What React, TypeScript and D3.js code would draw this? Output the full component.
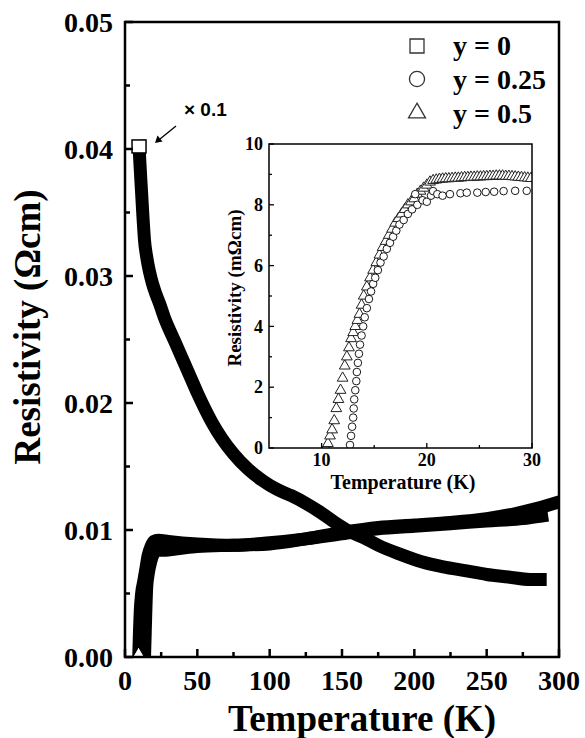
import React from "react";
import * as d3 from "d3";

// main panel: resistivity (Ohm cm) vs temperature (K)
const tempTicks = [0, 50, 100, 150, 200, 250, 300];
const rhoTicks = [0, 0.01, 0.02, 0.03, 0.04, 0.05];

// y = 0, already multiplied by 0.1
const rhoY0: [number, number][] = [
  [9.7, 0.0402], [10.5, 0.0385], [11.5, 0.0365], [12.5, 0.0345], [13.5, 0.0328],
  [15, 0.0315], [17, 0.0303], [19, 0.0294], [21, 0.0287], [24, 0.0278],
  [27, 0.0268], [31, 0.0257], [35, 0.0247], [40, 0.0234], [45, 0.0221],
  [50, 0.0208], [55, 0.0196], [60, 0.0185], [67, 0.0172], [75, 0.016],
  [85, 0.0148], [95, 0.0139], [105, 0.0132], [115, 0.0127], [125, 0.0121],
  [135, 0.0114], [145, 0.0106], [155, 0.0099], [165, 0.0094], [175, 0.0088],
  [190, 0.0081], [205, 0.0075], [220, 0.0071], [235, 0.0068], [250, 0.0065],
  [265, 0.0063], [280, 0.0061], [287, 0.0061],
];

// y = 0.25
const rhoY025: [number, number][] = [
  [13.5, 0], [14, 0.002], [14.5, 0.004], [15, 0.0055], [16, 0.0065],
  [18, 0.0076], [20, 0.0082], [22, 0.0084], [25, 0.0084], [35, 0.0085],
  [50, 0.0087], [75, 0.0088], [100, 0.0089], [125, 0.0093], [150, 0.0098],
  [175, 0.0102], [200, 0.0104], [225, 0.0106], [250, 0.0109], [270, 0.0113],
  [285, 0.0117], [300, 0.0122],
];

// y = 0.5
const rhoY05: [number, number][] = [
  [9.5, 0], [10, 0.002], [10.5, 0.0035], [11.5, 0.005], [13, 0.006],
  [14.5, 0.007], [16, 0.008], [18, 0.0087], [20, 0.0091], [23, 0.0092],
  [30, 0.0091], [50, 0.0089], [75, 0.0088], [100, 0.009], [125, 0.0093],
  [150, 0.0097], [175, 0.0101], [200, 0.0103], [225, 0.0105], [250, 0.0107],
  [275, 0.0109], [288, 0.0111],
];

// inset: resistivity (mOhm cm) near Tc
const insetTempTicks = [10, 20, 30];
const insetRhoTicks = [0, 2, 4, 6, 8, 10];

const insetY05: [number, number][] = [
  [10.4, 0], [10.6, 0.15], [10.8, 0.4], [11.0, 0.6], [11.2, 0.9], [11.4, 1.3],
  [11.6, 1.6], [11.8, 1.9], [12.0, 2.3], [12.2, 2.7], [12.4, 3.0], [12.6, 3.3],
  [12.8, 3.6], [13.0, 3.8], [13.2, 4.0], [13.4, 4.2], [13.6, 4.4], [13.8, 4.7],
  [14.0, 5.0], [14.3, 5.3], [14.6, 5.6], [14.9, 5.85], [15.2, 6.1], [15.5, 6.35],
  [15.8, 6.6], [16.1, 6.8], [16.4, 7.0], [16.7, 7.2], [17.0, 7.4], [17.3, 7.55],
  [17.6, 7.7], [17.9, 7.85], [18.2, 8.0], [18.5, 8.1], [18.8, 8.2], [19.1, 8.35],
  [19.4, 8.45], [19.7, 8.55], [20.0, 8.65], [20.3, 8.75], [20.6, 8.8], [20.9, 8.82],
  [21.2, 8.84], [21.5, 8.85], [21.8, 8.86], [22.1, 8.86], [22.4, 8.87], [22.7, 8.88],
  [23.0, 8.88], [23.3, 8.89], [23.6, 8.9], [23.9, 8.9], [24.2, 8.91], [24.5, 8.91],
  [24.8, 8.92], [25.1, 8.92], [25.4, 8.93], [25.7, 8.93], [26.0, 8.94], [26.3, 8.94],
  [26.6, 8.95], [26.9, 8.95], [27.2, 8.95], [27.5, 8.94], [27.8, 8.94], [28.1, 8.93],
  [28.4, 8.92], [28.7, 8.91], [29.0, 8.9], [29.3, 8.89], [29.6, 8.88], [29.9, 8.87],
];

const insetY025: [number, number][] = [
  [12.7, 0.1], [12.8, 0.4], [12.9, 0.7], [13.0, 1.0], [13.05, 1.3], [13.1, 1.6],
  [13.2, 1.9], [13.3, 2.2], [13.35, 2.5], [13.45, 2.8], [13.55, 3.1], [13.65, 3.4],
  [13.8, 3.7], [13.95, 4.0], [14.1, 4.3], [14.3, 4.6], [14.5, 4.9], [14.7, 5.15],
  [14.9, 5.4], [15.1, 5.6], [15.35, 5.85], [15.6, 6.1], [15.9, 6.3], [16.2, 6.55],
  [16.5, 6.75], [16.8, 6.95], [17.1, 7.15], [17.4, 7.35], [17.8, 7.5], [18.2, 7.7],
  [18.6, 7.85], [18.9, 8.35], [19.1, 8.0], [19.6, 8.15], [20.0, 8.1], [20.4, 8.3],
  [20.6, 8.45], [21.0, 8.35], [21.5, 8.3], [22.2, 8.35], [23.2, 8.38], [23.8, 8.4],
  [24.8, 8.4], [25.6, 8.42], [26.4, 8.43], [27.3, 8.45], [28.4, 8.46], [29.5, 8.46],
];

const legendLabels = ["y = 0", "y = 0.25", "y = 0.5"];

const serifStyle = { fontFamily: "Liberation Serif", fontWeight: "bold" as const };
const sansStyle = { fontFamily: "Liberation Sans", fontWeight: "bold" as const };

const App = () => {
  const width = 585;
  const height = 738;

  const x = d3.scaleLinear().domain([0, 300]).range([125, 559]);
  const y = d3.scaleLinear().domain([0, 0.05]).range([657, 22]);

  const xi = d3.scaleLinear().domain([5, 30]).range([269, 532]);
  const yi = d3.scaleLinear().domain([0, 10]).range([448, 144]);

  const band = d3
    .line<[number, number]>()
    .x((d) => x(d[0]))
    .y((d) => y(d[1]))
    .curve(d3.curveMonotoneX);

  const sym = (type: d3.SymbolType, size: number) => d3.symbol().type(type).size(size)()!;

  const xMinor = d3.range(25, 300, 50);
  const yMinor = d3.range(0.005, 0.05, 0.01);
  const xiMinor = [15, 25];
  const yiMinor = [1, 3, 5, 7, 9];

  return (
    <svg width={width} height={height} style={{ position: "absolute", left: 0, top: 0, background: "#fff" }}>
      <defs>
        <clipPath id="main-clip">
          <rect x={125} y={22} width={434} height={635} />
        </clipPath>
        <clipPath id="inset-clip">
          <rect x={269} y={144} width={263} height={304} />
        </clipPath>
      </defs>

      {/* data bands (dense overlapping markers) */}
      <g clipPath="url(#main-clip)" fill="none" stroke="#000" strokeWidth={13} strokeLinejoin="round" strokeLinecap="square">
        <path d={band(rhoY025)!} />
        <path d={band(rhoY05)!} />
        <path d={band(rhoY0)!} />
        <path
          d={sym(d3.symbolTriangle, 60)}
          transform={`translate(${x(rhoY05[0][0])},${y(rhoY05[0][1]) - 3})`}
          fill="#fff"
          strokeWidth={1}
        />
      </g>
      <rect
        x={x(rhoY0[0][0]) - 7}
        y={y(rhoY0[0][1]) - 6.5}
        width={14}
        height={13}
        fill="#fff"
        stroke="#000"
        strokeWidth={1.5}
      />

      {/* main frame */}
      <rect x={125} y={22} width={434} height={635} fill="none" stroke="#000" strokeWidth={2.5} />

      {/* main ticks */}
      <g stroke="#000" strokeWidth={2.5}>
        {tempTicks.map((t) => (
          <line key={"xt" + t} x1={x(t)} x2={x(t)} y1={657} y2={649} />
        ))}
        {xMinor.map((t) => (
          <line key={"xm" + t} x1={x(t)} x2={x(t)} y1={657} y2={652} />
        ))}
        {rhoTicks.map((t) => (
          <line key={"yt" + t} x1={125} x2={133} y1={y(t)} y2={y(t)} />
        ))}
        {yMinor.map((t) => (
          <line key={"ym" + t} x1={125} x2={130} y1={y(t)} y2={y(t)} />
        ))}
      </g>

      {tempTicks.map((t) => (
        <text key={"xl" + t} x={x(t)} y={690} textAnchor="middle" fontSize={28} style={serifStyle}>
          {t}
        </text>
      ))}
      {rhoTicks.map((t) => (
        <text key={"yl" + t} x={113} y={y(t)} dy="0.34em" textAnchor="end" fontSize={28} style={serifStyle}>
          {d3.format(".2f")(t)}
        </text>
      ))}

      <text x={362} y={731} textAnchor="middle" fontSize={37} style={serifStyle}>
        Temperature (K)
      </text>
      <text transform="translate(40,327) rotate(-90)" textAnchor="middle" fontSize={37} style={serifStyle}>
        Resistivity (Ωcm)
      </text>

      {/* ×0.1 annotation */}
      <text x={184} y={116} fontSize={19} style={sansStyle}>
        × 0.1
      </text>
      <line x1={176} y1={126} x2={160} y2={139} stroke="#000" strokeWidth={1.3} />
      <path d="M155,143 L157.5,135.5 L162.5,141.5 Z" fill="#000" />

      {/* legend */}
      <g fill="#fff" stroke="#333" strokeWidth={1.3}>
        <path d={sym(d3.symbolSquare, 196)} transform="translate(417,46)" />
        <path d={sym(d3.symbolCircle, 180)} transform="translate(417,79)" />
        <path d={sym(d3.symbolTriangle, 125)} transform="translate(417,113)" />
      </g>
      {legendLabels.map((l, i) => (
        <text key={l} x={453} y={55 + i * 34} fontSize={28} style={serifStyle}>
          {l}
        </text>
      ))}

      {/* inset */}
      <rect x={269} y={144} width={263} height={304} fill="#fff" />
      <g clipPath="url(#inset-clip)">
        {insetY05.map((d, i) => (
          <path
            key={"it" + i}
            d={sym(d3.symbolTriangle, 50)}
            transform={`translate(${xi(d[0])},${yi(d[1])})`}
            fill="#fff"
            stroke="#222"
            strokeWidth={1}
          />
        ))}
        {insetY025.map((d, i) => (
          <circle
            key={"ic" + i}
            cx={xi(d[0])}
            cy={yi(d[1])}
            r={3.8}
            fill="#fff"
            stroke="#000"
            strokeWidth={0.9}
          />
        ))}
      </g>
      <rect x={269} y={144} width={263} height={304} fill="none" stroke="#000" strokeWidth={1.5} />
      <g stroke="#000" strokeWidth={1.3}>
        {insetTempTicks.map((t) => (
          <line key={"ixt" + t} x1={xi(t)} x2={xi(t)} y1={448} y2={443} />
        ))}
        {xiMinor.map((t) => (
          <line key={"ixm" + t} x1={xi(t)} x2={xi(t)} y1={448} y2={445} />
        ))}
        {insetRhoTicks.map((t) => (
          <line key={"iyt" + t} x1={269} x2={274} y1={yi(t)} y2={yi(t)} />
        ))}
        {yiMinor.map((t) => (
          <line key={"iym" + t} x1={269} x2={272} y1={yi(t)} y2={yi(t)} />
        ))}
      </g>
      {insetTempTicks.map((t) => (
        <text key={"ixl" + t} x={xi(t)} y={466} textAnchor="middle" fontSize={18} style={serifStyle}>
          {t}
        </text>
      ))}
      {insetRhoTicks.map((t) => (
        <text key={"iyl" + t} x={263} y={yi(t)} dy="0.34em" textAnchor="end" fontSize={18} style={serifStyle}>
          {t}
        </text>
      ))}
      <text x={403} y={489} textAnchor="middle" fontSize={20} style={serifStyle}>
        Temperature (K)
      </text>
      <text transform="translate(241,288) rotate(-90)" textAnchor="middle" fontSize={19} style={serifStyle}>
        Resistivity (mΩcm)
      </text>
    </svg>
  );
};

export default App;
